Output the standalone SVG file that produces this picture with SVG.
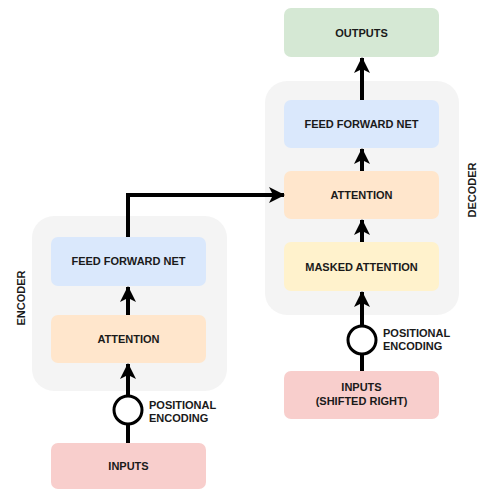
<svg xmlns="http://www.w3.org/2000/svg" width="478" height="490" viewBox="0 0 478 490">
<style>
.box{stroke:none}
.cont{fill:#f4f4f4}
.t{font-family:"Liberation Sans",Arial,sans-serif;font-weight:bold;font-size:11px;fill:#1a1a1a;text-anchor:middle}
.tl{font-family:"Liberation Sans",Arial,sans-serif;font-weight:bold;font-size:11px;fill:#1a1a1a}
.c{fill:none;stroke:#000;stroke-width:4}
.circ{fill:#fff;stroke:#000;stroke-width:3}
</style>
<defs>
<marker id="ah" markerUnits="userSpaceOnUse" markerWidth="18" markerHeight="18" viewBox="0 0 18 18" refX="15" refY="9" orient="auto">
<path d="M0,1 L16,9 L0,17 L4,9 Z" fill="#000"/>
</marker>
</defs>
<g id="encoder">
<rect class="cont" x="32" y="216" width="195" height="175" rx="22"/>
<text class="t" transform="translate(21,298) rotate(-90)" dy="4">ENCODER</text>
</g>
<g id="decoder">
<rect class="cont" x="265" y="81" width="194" height="234" rx="22"/>
<text class="t" transform="translate(472,190) rotate(-90)" dy="4">DECODER</text>
</g>
<g id="enc-ffn"><rect class="box" x="51" y="237" width="155" height="49" rx="7" fill="#dae8fc"/><text class="t" x="128.5" y="265">FEED FORWARD NET</text></g>
<g id="enc-att"><rect class="box" x="51" y="315" width="155" height="48" rx="7" fill="#ffe6cc"/><text class="t" x="128.5" y="343">ATTENTION</text></g>
<g id="enc-inputs"><rect class="box" x="51" y="443" width="155" height="46" rx="7" fill="#f8cecc"/><text class="t" x="128.5" y="470">INPUTS</text></g>
<g id="dec-outputs"><rect class="box" x="284" y="8" width="155" height="49" rx="7" fill="#d5e8d4"/><text class="t" x="361.5" y="37">OUTPUTS</text></g>
<g id="dec-ffn"><rect class="box" x="284" y="100" width="155" height="48" rx="7" fill="#dae8fc"/><text class="t" x="361.5" y="128">FEED FORWARD NET</text></g>
<g id="dec-att"><rect class="box" x="284" y="171" width="155" height="48" rx="7" fill="#ffe6cc"/><text class="t" x="361.5" y="199">ATTENTION</text></g>
<g id="dec-masked"><rect class="box" x="284" y="242" width="155" height="49" rx="7" fill="#fff2cc"/><text class="t" x="361.5" y="271">MASKED ATTENTION</text></g>
<g id="dec-inputs"><rect class="box" x="284" y="371" width="155" height="48" rx="7" fill="#f8cecc"/><text class="t" x="361.5" y="391">INPUTS</text><text class="t" x="361.5" y="405">(SHIFTED RIGHT)</text></g>
<g id="connectors">
<path class="c" d="M128,443 V424"/>
<path class="c" d="M128,396 V364" marker-end="url(#ah)"/>
<path class="c" d="M128,315 V287" marker-end="url(#ah)"/>
<path class="c" d="M128,237 V195 H284" marker-end="url(#ah)"/>
<path class="c" d="M362,371 V354"/>
<path class="c" d="M362,326 V292" marker-end="url(#ah)"/>
<path class="c" d="M362,242 V220" marker-end="url(#ah)"/>
<path class="c" d="M362,171 V149" marker-end="url(#ah)"/>
<path class="c" d="M362,100 V58" marker-end="url(#ah)"/>
</g>
<g id="enc-pe">
<circle class="circ" cx="128" cy="410" r="14"/>
<text class="tl" x="149" y="409">POSITIONAL</text><text class="tl" x="149" y="422">ENCODING</text>
</g>
<g id="dec-pe">
<circle class="circ" cx="362" cy="340" r="14"/>
<text class="tl" x="383" y="337">POSITIONAL</text><text class="tl" x="383" y="350">ENCODING</text>
</g>
</svg>
